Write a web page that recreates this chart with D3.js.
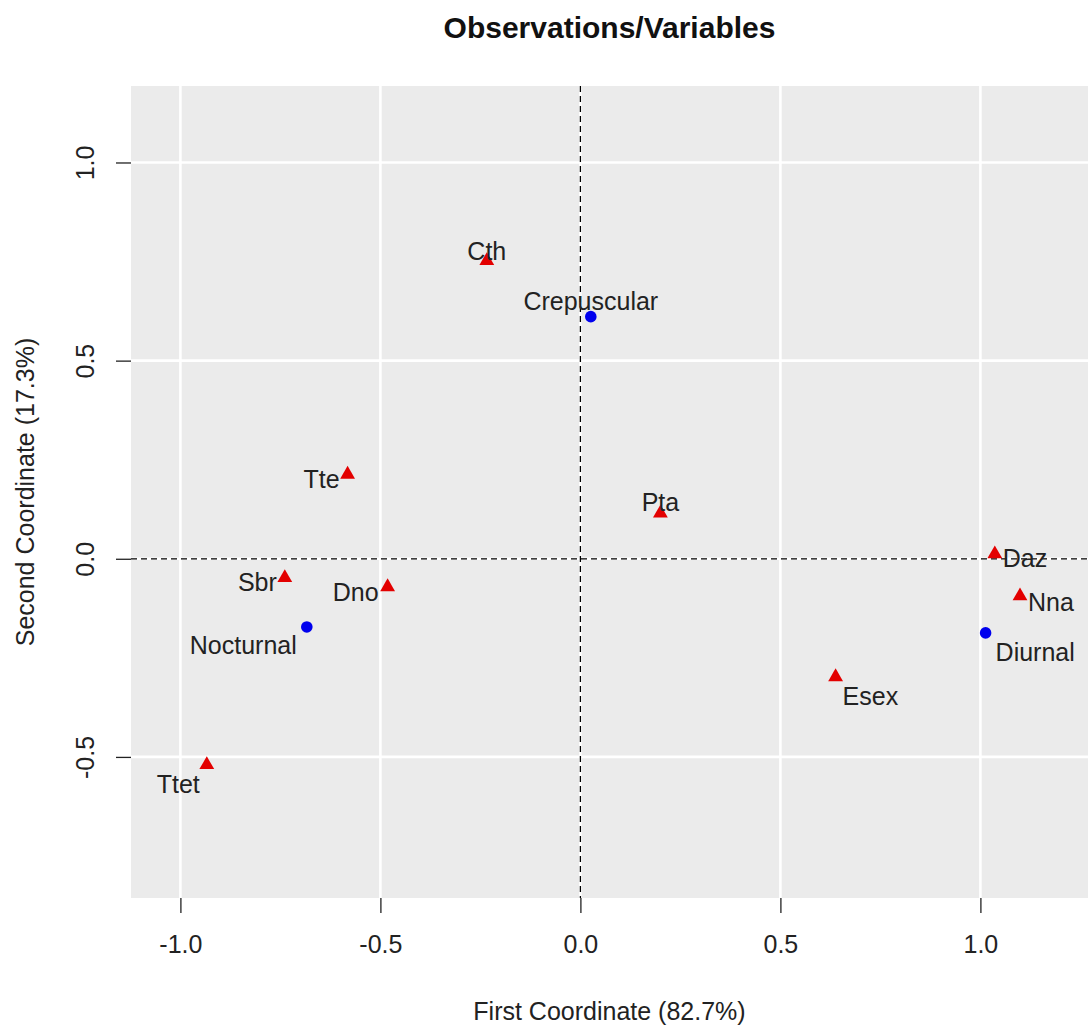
<!DOCTYPE html>
<html>
<head>
<meta charset="utf-8">
<script src="https://cdn.jsdelivr.net/npm/d3@7"></script>
<style>
  html, body { margin: 0; padding: 0; background: #fff; }
  svg { display: block; font-family: "Liberation Sans", Arial, sans-serif; }
</style>
</head>
<body>
<svg id="chart" width="1088" height="1026"></svg>
<script>
// Correspondence analysis: species (variables) and activity periods (observations)
const variableNames = ["Cth", "Tte", "Pta", "Daz", "Nna", "Esex", "Sbr", "Dno", "Ttet"];
const variableX     = [-0.234, -0.582, 0.200, 1.036, 1.099, 0.638, -0.739, -0.482, -0.934];
const variableY     = [0.752, 0.213, 0.115, 0.012, -0.094, -0.298, -0.048, -0.071, -0.520];

const observationNames = ["Crepuscular", "Nocturnal", "Diurnal"];
const observationX     = [0.026, -0.684, 1.013];
const observationY     = [0.611, -0.172, -0.187];

const xTicks = [-1.0, -0.5, 0.0, 0.5, 1.0];
const yTicks = [-0.5, 0.0, 0.5, 1.0];

const titleText = "Observations/Variables";
const xTitle = "First Coordinate (82.7%)";
const yTitle = "Second Coordinate (17.3%)";

// label placement around each point: [anchor, dx, dy]
const labelPlacement = {
  Cth: ["middle", 0, -10], Tte: ["end", -8, 5], Pta: ["middle", 0, -11],
  Daz: ["start", 8, 4], Nna: ["start", 8, 6], Esex: ["start", 7, 19],
  Sbr: ["end", -8, 4], Dno: ["end", -9, 5], Ttet: ["end", -7, 19],
  Crepuscular: ["middle", 0, -16], Nocturnal: ["end", -10, 18], Diurnal: ["start", 10, 19]
};

const variables = variableNames.map((n, i) => ({ name: n, x: variableX[i], y: variableY[i] }));
const observations = observationNames.map((n, i) => ({ name: n, x: observationX[i], y: observationY[i] }));

const svg = d3.select("#chart");
const panel = { left: 131, right: 1088, top: 86, bottom: 898 };

const x = d3.scaleLinear().domain([-1.1235, 1.269]).range([panel.left, panel.right]);
const y = d3.scaleLinear().domain([-0.856, 1.193]).range([panel.bottom, panel.top]);

// panel background
svg.append("rect")
  .attr("x", panel.left).attr("y", panel.top)
  .attr("width", panel.right - panel.left).attr("height", panel.bottom - panel.top)
  .attr("fill", "#ebebeb");

// grid
const grid = svg.append("g").attr("stroke", "#fff").attr("stroke-width", 2.6);
grid.selectAll("line.v").data(xTicks).join("line")
  .attr("x1", d => x(d)).attr("x2", d => x(d))
  .attr("y1", panel.top).attr("y2", panel.bottom);
grid.selectAll("line.h").data(yTicks).join("line")
  .attr("y1", d => y(d)).attr("y2", d => y(d))
  .attr("x1", panel.left).attr("x2", panel.right);

// dashed reference lines at the origin
svg.append("line")
  .attr("x1", x(0)).attr("x2", x(0)).attr("y1", panel.top).attr("y2", panel.bottom)
  .attr("stroke", "#000").attr("stroke-width", 1.3).attr("stroke-dasharray", "6,4");
svg.append("line")
  .attr("y1", y(0)).attr("y2", y(0)).attr("x1", panel.left).attr("x2", panel.right)
  .attr("stroke", "#000").attr("stroke-width", 1.3).attr("stroke-dasharray", "6,4");

// axes (plain hyphen for negative numbers)
const fmt = v => v.toFixed(1);
const xAxis = d3.axisBottom(x).tickValues(xTicks).tickFormat(fmt).tickSize(15).tickPadding(22);
const yAxis = d3.axisLeft(y).tickValues(yTicks).tickFormat(fmt).tickSize(15).tickPadding(21);

const gx = svg.append("g").attr("transform", `translate(0,${panel.bottom})`).call(xAxis);
gx.select(".domain").remove();
gx.selectAll("line").attr("stroke", "#222").attr("stroke-width", 1.3);
gx.selectAll("text").attr("font-size", 25).attr("fill", "#222")
  .attr("font-family", "'Liberation Sans', Arial, sans-serif");

const gy = svg.append("g").attr("transform", `translate(${panel.left},0)`).call(yAxis);
gy.select(".domain").remove();
gy.selectAll("line").attr("stroke", "#222").attr("stroke-width", 1.3);
gy.selectAll("text").attr("font-size", 25).attr("fill", "#222")
  .attr("font-family", "'Liberation Sans', Arial, sans-serif")
  .attr("text-anchor", "middle").attr("dy", null)
  .attr("transform", "translate(-46,0) rotate(-90)")
  .attr("x", 0).attr("y", 0)
  .attr("dominant-baseline", "central");

// points
const tri = d3.symbol().type(d3.symbolTriangle).size(95);
svg.append("g").selectAll("path").data(variables).join("path")
  .attr("d", tri)
  .attr("transform", d => `translate(${x(d.x)},${y(d.y)})`)
  .attr("fill", "#e30000");

svg.append("g").selectAll("circle").data(observations).join("circle")
  .attr("cx", d => x(d.x)).attr("cy", d => y(d.y)).attr("r", 5.8)
  .attr("fill", "#0000ee");

// point labels
const allPoints = variables.concat(observations);
svg.append("g").selectAll("text").data(allPoints).join("text")
  .attr("x", d => x(d.x) + labelPlacement[d.name][1])
  .attr("y", d => y(d.y) + labelPlacement[d.name][2])
  .attr("dy", "0.36em")
  .attr("text-anchor", d => labelPlacement[d.name][0])
  .attr("font-size", 25).attr("fill", "#222")
  .text(d => d.name);

// titles
svg.append("text")
  .attr("x", (panel.left + panel.right) / 2).attr("y", 38)
  .attr("text-anchor", "middle").attr("font-size", 30).attr("font-weight", "bold")
  .attr("fill", "#111").text(titleText);

svg.append("text")
  .attr("x", (panel.left + panel.right) / 2).attr("y", 1020)
  .attr("text-anchor", "middle").attr("font-size", 25).attr("fill", "#222")
  .text(xTitle);

svg.append("text")
  .attr("transform", `translate(34,${(panel.top + panel.bottom) / 2}) rotate(-90)`)
  .attr("text-anchor", "middle").attr("font-size", 25).attr("fill", "#222")
  .text(yTitle);
</script>
</body>
</html>
